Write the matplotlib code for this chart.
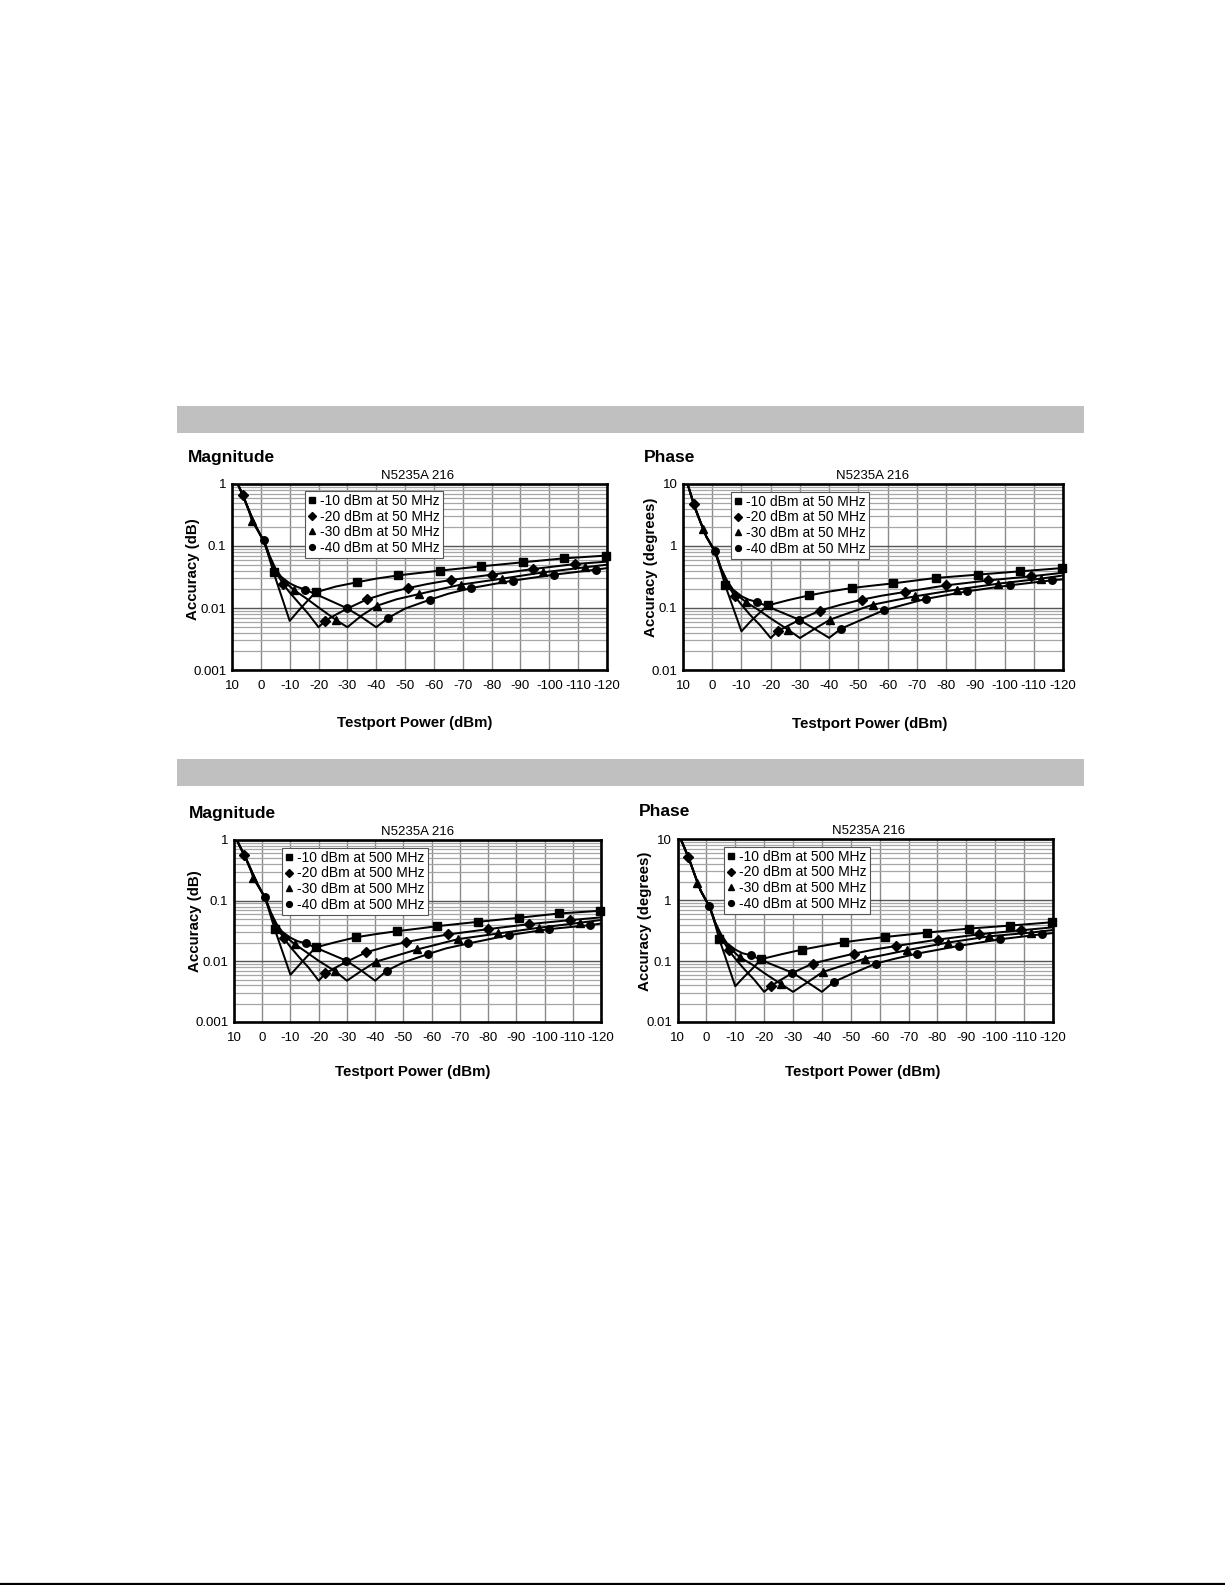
import matplotlib
matplotlib.use("Agg")
import matplotlib.pyplot as plt
from matplotlib.ticker import LogLocator, FixedLocator, NullFormatter
from matplotlib.lines import Line2D
from matplotlib.patches import Rectangle

plt.rcParams['font.family'] = ['Liberation Sans', 'DejaVu Sans']

# ---------------- data ----------------
XTICKS = [10, 0, -10, -20, -30, -40, -50, -60, -70, -80, -90, -100, -110, -120]
XTICK_LABELS = ["10", "0", "-10", "-20", "-30", "-40", "-50", "-60", "-70", "-80",
                "-90", "-100", "-110", "-120"]
MAG_YTICKS = [0.001, 0.01, 0.1, 1]
MAG_YLABELS = ["0.001", "0.01", "0.1", "1"]
PH_YTICKS = [0.01, 0.1, 1, 10]
PH_YLABELS = ["0.01", "0.1", "1", "10"]
REF_LEVELS = ["-10", "-20", "-30", "-40"]

# line x positions (dBm), shared by all four charts
X10 = [10, 8, 6, 4, 2, 0, -1, -2, -3, -4.4, -10, -13, -16, -19.0, -26, -33.2, -40,
       -47.7, -55, -62.0, -76.4, -90.8, -105.2, -119.6]
X20 = [10, 8, 6.3, 4, 2, 0, -1, -2, -3, -5, -7.7, -10, -13, -16.5, -20, -22.4, -26,
       -30, -36.8, -44, -51.1, -58, -65.8, -80.1, -94.5, -109.0, -120]
X30 = [10, 8, 6, 4, 3.1, 2, 0, -1, -2, -3, -5, -8, -11.5, -16, -20, -25.9, -30, -35,
       -40.3, -47, -54.9, -62, -69.3, -83.6, -97.9, -112.4, -120]
X40 = [10, 8, 6, 4, 2, 0, -1.0, -2, -3, -5, -7, -10, -12.5, -15.4, -22, -29.7, -35,
       -40, -44.1, -50, -58.6, -65, -73.0, -87.3, -101.7, -116.1, -120]
# which of those points carry a marker
MK10 = [9, 13, 15, 17, 19, 20, 21, 22, 23]
MK20 = [2, 10, 15, 18, 20, 22, 23, 24, 25]
MK30 = [4, 12, 15, 18, 20, 22, 23, 24, 25]
MK40 = [6, 13, 15, 18, 20, 22, 23, 24, 25]

# Magnitude, 50 MHz (dB)
M50_10 = [1.45, 1.0, 0.62, 0.36, 0.22, 0.145, 0.118, 0.088, 0.062, 0.0376, 0.0062,
          0.0090, 0.0128, 0.0179, 0.0222, 0.0259, 0.0298, 0.0336, 0.0368, 0.040,
          0.047, 0.0546, 0.0633, 0.070]
M50_20 = [1.45, 1.0, 0.67, 0.37, 0.22, 0.145, 0.118, 0.09, 0.066, 0.040, 0.0244,
          0.0178, 0.0123, 0.0080, 0.0049, 0.00625, 0.0078, 0.0098, 0.0138, 0.0175,
          0.021, 0.0245, 0.0283, 0.0345, 0.0426, 0.0512, 0.056]
M50_30 = [1.45, 1.0, 0.62, 0.35, 0.256, 0.21, 0.145, 0.12, 0.092, 0.068, 0.042,
          0.027, 0.0195, 0.0140, 0.0102, 0.0065, 0.0049, 0.0076, 0.0109, 0.0138,
          0.0168, 0.020, 0.0238, 0.0297, 0.0376, 0.0453, 0.050]
M50_40 = [1.45, 1.0, 0.62, 0.36, 0.22, 0.148, 0.126, 0.095, 0.07, 0.044, 0.032,
          0.025, 0.022, 0.0198, 0.0145, 0.0100, 0.0071, 0.0049, 0.0069, 0.0098,
          0.0136, 0.0170, 0.021, 0.0276, 0.0345, 0.0415, 0.044]

# Phase, 50 MHz (degrees)
P50_10 = [16, 8.6, 4.2, 2.4, 1.4, 0.97, 0.78, 0.57, 0.40, 0.235, 0.042, 0.060,
          0.082, 0.110, 0.134, 0.16, 0.184, 0.21, 0.23, 0.25, 0.305, 0.345, 0.39, 0.44]
P50_20 = [16, 8.6, 4.8, 2.45, 1.42, 0.97, 0.79, 0.58, 0.42, 0.25, 0.154, 0.113,
          0.077, 0.052, 0.0328, 0.042, 0.052, 0.065, 0.0906, 0.113, 0.136, 0.158,
          0.181, 0.232, 0.279, 0.324, 0.37]
P50_30 = [16, 8.6, 4.2, 2.4, 1.9, 1.4, 0.97, 0.8, 0.6, 0.43, 0.27, 0.17, 0.125,
          0.092, 0.068, 0.0448, 0.0328, 0.046, 0.0649, 0.084, 0.113, 0.132, 0.154,
          0.198, 0.247, 0.297, 0.335]
P50_40 = [16, 8.6, 4.2, 2.4, 1.42, 0.98, 0.82, 0.61, 0.44, 0.28, 0.2, 0.155, 0.136,
          0.125, 0.092, 0.0649, 0.046, 0.033, 0.0465, 0.0614, 0.0916, 0.111, 0.14,
          0.186, 0.232, 0.279, 0.29]

# Magnitude, 500 MHz (dB)
M500_10 = [1.25, 0.8, 0.52, 0.32, 0.2, 0.135, 0.11, 0.08, 0.056, 0.0341, 0.006,
           0.0086, 0.0122, 0.017, 0.0207, 0.0249, 0.028, 0.0314, 0.0345, 0.038,
           0.0448, 0.0522, 0.0615, 0.068]
M500_20 = [1.25, 0.8, 0.57, 0.33, 0.2, 0.135, 0.11, 0.082, 0.06, 0.037, 0.0239,
           0.0172, 0.0118, 0.0078, 0.0048, 0.00634, 0.0079, 0.0099, 0.0141, 0.0175,
           0.0208, 0.024, 0.0277, 0.034, 0.041, 0.0478, 0.053]
M500_30 = [1.25, 0.8, 0.52, 0.31, 0.233, 0.19, 0.135, 0.11, 0.084, 0.062, 0.039,
           0.026, 0.0193, 0.0138, 0.0102, 0.00684, 0.0048, 0.0069, 0.0099, 0.0122,
           0.0157, 0.019, 0.0232, 0.0288, 0.0357, 0.0432, 0.048]
M500_40 = [1.25, 0.8, 0.52, 0.32, 0.2, 0.135, 0.1135, 0.087, 0.065, 0.042, 0.031,
           0.0245, 0.0215, 0.0198, 0.0146, 0.0103, 0.0071, 0.0048, 0.0070, 0.0096,
           0.0131, 0.0163, 0.0197, 0.027, 0.034, 0.0395, 0.042]

# Phase, 500 MHz (degrees)
P500_10 = [13.6, 8.1, 4.8, 2.6, 1.45, 0.97, 0.8, 0.58, 0.41, 0.235, 0.0387, 0.055,
           0.076, 0.108, 0.13, 0.155, 0.178, 0.205, 0.228, 0.25, 0.295, 0.343,
           0.385, 0.436]
P500_20 = [13.6, 8.1, 5.19, 2.6, 1.45, 0.97, 0.8, 0.59, 0.43, 0.255, 0.151, 0.11,
           0.075, 0.05, 0.0313, 0.0392, 0.05, 0.0649, 0.0914, 0.111, 0.133, 0.155,
           0.178, 0.226, 0.277, 0.322, 0.36]
P500_30 = [13.6, 8.1, 4.8, 2.6, 1.95, 1.45, 0.97, 0.81, 0.6, 0.43, 0.27, 0.165,
           0.117, 0.087, 0.064, 0.0418, 0.0313, 0.045, 0.0665, 0.084, 0.110, 0.128,
           0.151, 0.202, 0.256, 0.295, 0.325]
P500_40 = [13.6, 8.1, 4.8, 2.6, 1.45, 0.98, 0.81, 0.61, 0.44, 0.28, 0.2, 0.155,
           0.135, 0.125, 0.091, 0.0649, 0.045, 0.0313, 0.0456, 0.061, 0.091, 0.109,
           0.133, 0.178, 0.229, 0.277, 0.29]

# ---------------- figure ----------------
W, H = 1225, 1585
fig = plt.figure(figsize=(W / 100, H / 100), dpi=100)


def rect(x0, y0, x1, y1):
    return [x0 / W, 1 - y1 / H, (x1 - x0) / W, (y1 - y0) / H]


def ftext(x, y, s, **kw):
    fig.text(x / W, 1 - y / H, s, **kw)


# grey section bands
for (y0, y1) in [(406, 433), (759, 786)]:
    fig.patches.append(Rectangle((177 / W, 1 - y1 / H), (1084 - 177) / W, (y1 - y0) / H,
                                 transform=fig.transFigure, facecolor='#c0c0c0',
                                 edgecolor='none', zorder=0))
# bottom rule
fig.add_artist(Line2D([0, 1], [1 - 1583.5 / H, 1 - 1583.5 / H], color='black',
                      lw=1.6, transform=fig.transFigure))

SERIES_X = [X10, X20, X30, X40]
SERIES_MK = [MK10, MK20, MK30, MK40]
MARKERS = ['s', 'D', '^', 'o']
MSIZE = [5.2, 4.6, 5.4, 5.4]
LMSIZE = [4.0, 3.8, 4.4, 4.2]

charts = [
    dict(rect=(232, 484, 607, 670), ylim=(0.001, 1), yt=MAG_YTICKS, yl=MAG_YLABELS,
         ys=[M50_10, M50_20, M50_30, M50_40], freq="50 MHz", leg=(0.195, 0.962),
         head=("Magnitude", 188, 457), title=(418, 476), ylab=("Accuracy (dB)", 193, 569),
         xlab=(415, 723)),
    dict(rect=(683, 484, 1063, 670), ylim=(0.01, 10), yt=PH_YTICKS, yl=PH_YLABELS,
         ys=[P50_10, P50_20, P50_30, P50_40], freq="50 MHz", leg=(0.126, 0.957),
         head=("Phase", 644, 457), title=(873, 476), ylab=("Accuracy (degrees)", 651, 567),
         xlab=(870, 724)),
    dict(rect=(234, 840, 601, 1022), ylim=(0.001, 1), yt=MAG_YTICKS, yl=MAG_YLABELS,
         ys=[M500_10, M500_20, M500_30, M500_40], freq="500 MHz", leg=(0.131, 0.956),
         head=("Magnitude", 189, 813), title=(418, 832), ylab=("Accuracy (dB)", 195, 921),
         xlab=(413, 1072)),
    dict(rect=(677.5, 839.5, 1053, 1022), ylim=(0.01, 10), yt=PH_YTICKS, yl=PH_YLABELS,
         ys=[P500_10, P500_20, P500_30, P500_40], freq="500 MHz", leg=(0.124, 0.959),
         head=("Phase", 639, 812), title=(869, 831), ylab=("Accuracy (degrees)", 645, 921),
         xlab=(863, 1072)),
]

for c in charts:
    ax = fig.add_axes(rect(*c['rect']))
    ax.set_xlim(10, -120)
    ax.set_yscale('log')
    ax.set_ylim(*c['ylim'])
    ax.xaxis.set_major_locator(FixedLocator(XTICKS))
    ax.set_xticklabels(XTICK_LABELS)
    ax.yaxis.set_major_locator(FixedLocator(c['yt']))
    ax.set_yticklabels(c['yl'])
    ax.yaxis.set_minor_locator(LogLocator(base=10, subs=range(2, 10)))
    ax.yaxis.set_minor_formatter(NullFormatter())
    ax.tick_params(which='both', length=0)
    ax.tick_params(axis='x', pad=7.0, labelsize=9.5)
    ax.tick_params(axis='y', pad=4.0, labelsize=9.5)
    ax.grid(axis='x', which='major', color='#8a8a8a', lw=1.0)
    ax.grid(axis='y', which='major', color='#555555', lw=1.0)
    ax.grid(axis='y', which='minor', color='#a6a6a6', lw=0.9)
    ax.set_axisbelow(True)
    for sp in ax.spines.values():
        sp.set_linewidth(1.9)
        sp.set_zorder(6)

    for X, Y, mk, m, ms in zip(SERIES_X, c['ys'], SERIES_MK, MARKERS, MSIZE):
        ax.plot(X, Y, color='black', lw=1.45, zorder=3)
        ax.plot([X[i] for i in mk], [Y[i] for i in mk], ls='none', marker=m, ms=ms,
                color='black', zorder=4, clip_on=False)

    handles = [Line2D([], [], ls='none', marker=m, ms=s, color='black')
               for m, s in zip(MARKERS, LMSIZE)]
    labels = [f"{r} dBm at {c['freq']}" for r in REF_LEVELS]
    leg = ax.legend(handles, labels, loc='upper left', bbox_to_anchor=c['leg'],
                    borderaxespad=0, frameon=True, fancybox=False, edgecolor='#555555',
                    framealpha=1, fontsize=10, handlelength=0.6, handletextpad=0.3,
                    borderpad=0.2, labelspacing=0.12, numpoints=1)
    leg.get_frame().set_linewidth(0.8)
    leg.set_zorder(5)

    h, hx, hy = c['head']
    ftext(hx, hy, h, fontsize=12.5, fontweight='bold', ha='left', va='center')
    ftext(c['title'][0], c['title'][1], "N5235A 216", fontsize=9.5, ha='center', va='center')
    yl, yx, yy = c['ylab']
    ftext(yx, yy, yl, fontsize=10.8, fontweight='bold', rotation=90, ha='center', va='center')
    ftext(c['xlab'][0], c['xlab'][1], "Testport Power (dBm)", fontsize=10.8,
          fontweight='bold', ha='center', va='center')

fig.savefig("out.png", dpi=100)
